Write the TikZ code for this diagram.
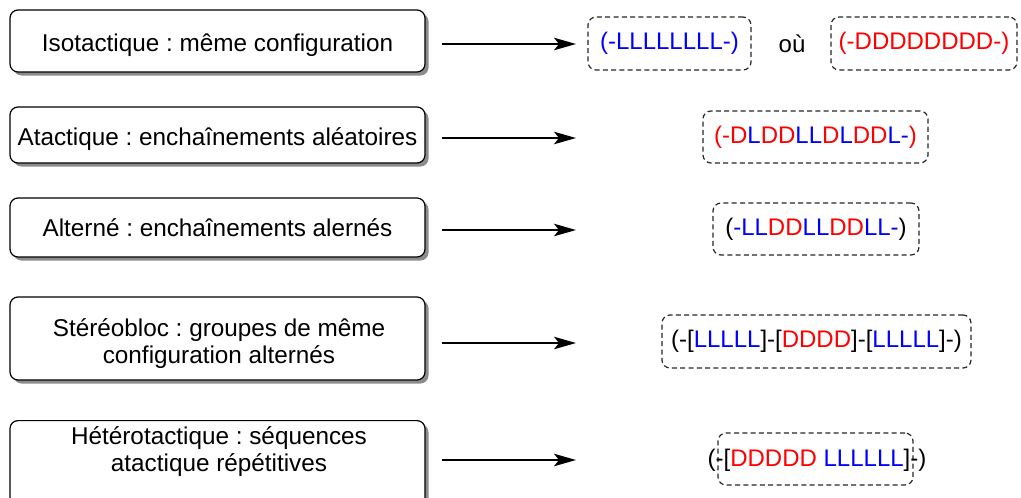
\documentclass[tikz,border=0pt]{standalone}
\usepackage{fontspec}
\setmainfont{Liberation Sans}
\usetikzlibrary{shadows,arrows.meta}
\definecolor{blu}{RGB}{0,0,255}
\definecolor{rd}{RGB}{255,0,0}
\frenchspacing
\begin{document}
\begin{tikzpicture}[x=1pt,y=-1pt,
  lbox/.style={draw=black, line width=1.2pt, rounded corners=8pt, fill=white,
    minimum width=415pt, align=center, inner sep=0pt,
    drop shadow={shadow xshift=3.5pt, shadow yshift=-3.5pt, fill=black!45, opacity=1},
    font=\fontsize{24.3}{27}\selectfont},
  one/.style={text height=20pt, text depth=0pt},
  ltext/.style={align=center, inner sep=0pt, font=\fontsize{24.3}{27}\selectfont},
  dbox/.style={draw=black!85, line width=1.2pt, dash pattern=on 5pt off 3.3pt,
    rounded corners=8pt, inner sep=0pt, font=\fontsize{24}{28}\selectfont},
  rtext/.style={inner sep=0pt, font=\fontsize{24}{28}\selectfont},
  arr/.style={line width=1.7pt, -{Stealth[length=22pt, width=12.5pt, inset=5pt]}}
]
\useasboundingbox (0,0) rectangle (1021,498);

% left boxes
\node[lbox, one, minimum height=62pt] (b1) at (217.5,41) {Isotactique : même configuration};
\node[lbox, one, minimum height=56pt] (b2) at (217.5,135) {Atactique : enchaînements aléatoires};
\node[lbox, text height=18pt, text depth=0pt, minimum height=59pt] (b3) at (217.5,227.5) {Alterné : enchaînements alernés};
\node[lbox, minimum height=83pt] (b4) at (217.5,338.5) {};
\node[ltext] (t4) at (219,343.5) {Stéréobloc : groupes de même\\configuration alternés};
\node[lbox, minimum height=90pt, anchor=north] (b5) at (217.5,420) {};
\node[ltext] (t5) at (219,451.5) {Hétérotactique : séquences\\atactique répétitives};

% arrows
\coordinate (s1) at (442,44);  \coordinate (e1) at (576,44);
\coordinate (s2) at (442,138); \coordinate (e2) at (576,138);
\coordinate (s3) at (442,230); \coordinate (e3) at (576,230);
\coordinate (s4) at (442,343); \coordinate (e4) at (576,343);
\coordinate (s5) at (442,460); \coordinate (e5) at (576,460);
\draw[arr] (s1) -- (e1);
\draw[arr] (s2) -- (e2);
\draw[arr] (s3) -- (e3);
\draw[arr] (s4) -- (e4);
\draw[arr] (s5) -- (e5);

% right dashed boxes
\node[dbox, minimum width=163pt, minimum height=53pt] (r1a) at (669.5,43.5)
  {\color{blu}(-LLLLLLLL-)};
\node[rtext] (ou) at (792,44) {où};
\node[dbox, minimum width=186pt, minimum height=53pt] (r1b) at (924,43.5)
  {\color{rd}(-DDDDDDDD-)};
\node[dbox, minimum width=225pt, minimum height=52pt] (r2) at (815.5,137)
  {\color{rd}(-D\color{blu}L\color{rd}DD\color{blu}LL\color{rd}D\color{blu}L\color{rd}DD\color{blu}L-\color{rd})};
\node[dbox, minimum width=206pt, minimum height=52pt] (r3) at (816,229)
  {(\color{blu}-LL\color{rd}DD\color{blu}LL\color{rd}DD\color{blu}LL-\color{black})};
\node[dbox, minimum width=309pt, minimum height=53pt] (r4) at (816.5,341.5)
  {(-[\textcolor{blu}{LLLLL}]-[\textcolor{rd}{DDDD}]-[\textcolor{blu}{LLLLL}]-)};
\node[dbox, minimum width=195pt, minimum height=52pt] (r5) at (815.5,459) {};
\node[rtext] (t5r) at (817,460)
  {(-[\textcolor{rd}{DDDDD} \textcolor{blu}{LLLLLL}]-)};
\end{tikzpicture}
\end{document}
